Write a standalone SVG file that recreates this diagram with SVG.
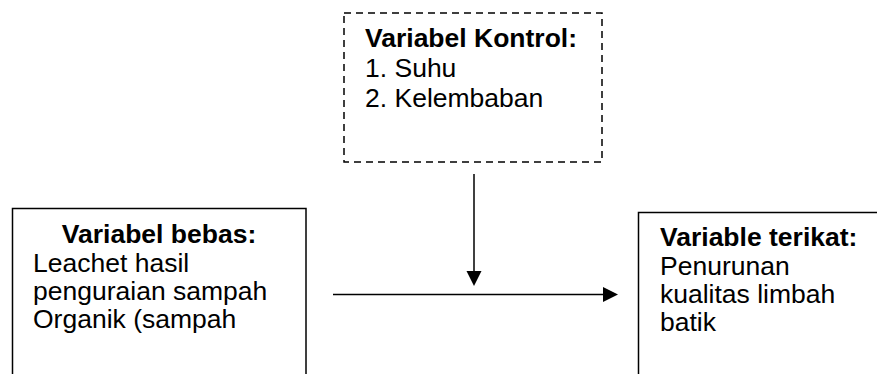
<svg xmlns="http://www.w3.org/2000/svg" width="877" height="374" viewBox="0 0 877 374">
<style>
.box{fill:#fff;stroke:#000;stroke-width:1.5}
.dash{fill:#fff;stroke:#000;stroke-width:1.5;stroke-dasharray:7,5}
.t{font-family:"Liberation Sans",Arial,sans-serif;font-size:26.5px;fill:#000}
.b{font-weight:bold}
.line{stroke:#000;stroke-width:1.5;fill:none}
</style>
<g id="control">
<rect class="dash" x="344" y="13" width="258" height="149"/>
<text class="t b" x="365" y="47">Variabel Kontrol:</text>
<text class="t" x="365" y="77">1. Suhu</text>
<text class="t" x="365" y="107">2. Kelembaban</text>
</g>
<g id="independent">
<rect class="box" x="12.5" y="208.5" width="293.5" height="180"/>
<text class="t b" x="159" y="243" text-anchor="middle">Variabel bebas:</text>
<text class="t" x="33" y="272">Leachet hasil</text>
<text class="t" x="33" y="300">penguraian sampah</text>
<text class="t" x="33" y="328">Organik (sampah</text>
</g>
<g id="dependent">
<rect class="box" x="638.5" y="212.5" width="260" height="180"/>
<text class="t b" x="660" y="246">Variable terikat:</text>
<text class="t" x="660" y="275">Penurunan</text>
<text class="t" x="660" y="303">kualitas limbah</text>
<text class="t" x="660" y="331">batik</text>
</g>
<g id="connectors">
<line class="line" x1="474" y1="174" x2="474" y2="272"/>
<path d="M466.5,271 L481.5,271 L474,286 Z" fill="#000"/>
<line class="line" x1="333" y1="294.5" x2="604" y2="294.5"/>
<path d="M603,287 L618,294.5 L603,302 Z" fill="#000"/>
</g>
</svg>
